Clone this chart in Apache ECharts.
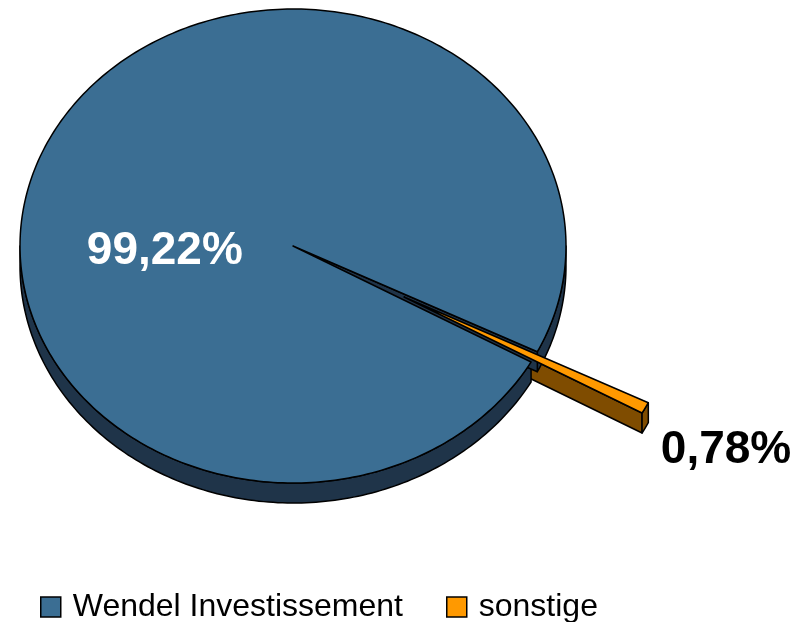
<!DOCTYPE html>
<html>
<head>
<meta charset="utf-8">
<script src="https://cdn.jsdelivr.net/npm/echarts@6/dist/echarts.min.js"></script>
<style>html,body{margin:0;padding:0;background:#fff}#chart{width:812px;height:622px}</style>
</head>
<body>
<div id="chart"></div>
<script>
// Anteile in Prozent
var names = ['Wendel Investissement', 'sonstige'];
var values = [99.22, 0.78];
var labels = ['99,22%', '0,78%'];

var topColors = ['#3b6e93', '#ff9900'];
var sideColors = ['#1f3449', '#7f4c00'];
var labelColors = ['#fff', '#000'];
var explode = [0, 0.46];
var labelR = [0.47, 1.805];
var labelAngle = [177.5, 28.5];

// Ellipse der Deckfläche
var cx = 293, cy = 246, rx = 273, ry = 237, depth = 20;
var startAngle = 29.3; // Grad, im Uhrzeigersinn ab 3 Uhr

var total = values.reduce(function (a, b) { return a + b; }, 0);
var ranges = [];
var acc = startAngle;
values.forEach(function (v) {
  var span = v / total * 360;
  ranges.push([acc, acc + span]);
  acc += span;
});

function rad(d) { return d * Math.PI / 180; }

function pt(a, r, ox, oy, dz) {
  return [cx + ox + r * rx * Math.cos(rad(a)), cy + oy + r * ry * Math.sin(rad(a)) + dz];
}

function arc(a, b, ox, oy, dz) {
  var n = Math.max(3, Math.ceil(Math.abs(b - a)));
  var pts = [];
  for (var i = 0; i <= n; i++) pts.push(pt(a + (b - a) * i / n, 1, ox, oy, dz));
  return pts;
}

function poly(points, fill, z2) {
  return {
    type: 'polygon',
    z2: z2,
    shape: {points: points},
    style: {fill: fill, stroke: '#000', lineWidth: 1.5, lineJoin: 'round'}
  };
}

function renderSlice(params, api) {
  var i = params.seriesIndex;
  var a = ranges[i][0], b = ranges[i][1];
  var mid = (a + b) / 2;
  var ox = explode[i] * rx * Math.cos(rad(mid));
  var oy = explode[i] * ry * Math.sin(rad(mid));
  var c0 = [cx + ox, cy + oy];
  var c1 = [cx + ox, cy + oy + depth];
  // herausgezogene Stücke: Schnittflächen liegen hinter dem Rest
  var wallZ = explode[i] > 0 ? 0 : 2;
  var children = [];

  // Außenwand, nur vorne sichtbar
  var cuts = [a];
  for (var k = Math.ceil(a / 180) * 180; k < b; k += 180) if (k > a) cuts.push(k);
  cuts.push(b);
  for (var j = 0; j < cuts.length - 1; j++) {
    var s = cuts[j], e = cuts[j + 1];
    if (Math.sin(rad((s + e) / 2)) > 0) {
      children.push(poly(arc(s, e, ox, oy, 0).concat(arc(s, e, ox, oy, depth).reverse()), sideColors[i], 1));
    }
  }
  // Schnittflächen
  if (Math.cos(rad(b)) > 0) {
    children.push(poly([c0, pt(b, 1, ox, oy, 0), pt(b, 1, ox, oy, depth), c1], sideColors[i], wallZ));
  }
  if (Math.cos(rad(a)) < 0) {
    children.push(poly([c0, pt(a, 1, ox, oy, 0), pt(a, 1, ox, oy, depth), c1], sideColors[i], wallZ));
  }
  // Deckfläche
  children.push(poly([c0].concat(arc(a, b, ox, oy, 0)), topColors[i], 3));

  var lp = pt(labelAngle[i], labelR[i], 0, 0, 0);
  children.push({
    type: 'text',
    z2: 10,
    x: lp[0], y: lp[1],
    style: {
      text: labels[i],
      fill: labelColors[i],
      fontSize: 46,
      fontWeight: 'bold',
      fontFamily: '"Liberation Sans", Arial, sans-serif',
      align: 'center',
      verticalAlign: 'middle'
    }
  });
  return {type: 'group', children: children};
}

var legendBase = {
  icon: 'rect',
  itemWidth: 20,
  itemHeight: 20,
  padding: 0,
  top: 591,
  itemStyle: {borderColor: '#000', borderWidth: 1.5},
  textStyle: {fontSize: 32, fontFamily: '"Liberation Sans", Arial, sans-serif', color: '#000', padding: [0, 0, 0, 7]}
};

var chart = echarts.init(document.getElementById('chart'));
chart.setOption({
  animation: false,
  legend: [
    Object.assign({}, legendBase, {data: [names[0]], left: 40}),
    Object.assign({}, legendBase, {data: [names[1]], left: 446})
  ],
  series: names.map(function (n, i) {
    return {
      type: 'custom',
      name: n,
      z: 2,
      coordinateSystem: 'none',
      itemStyle: {color: topColors[i]},
      data: [[values[i]]],
      renderItem: renderSlice
    };
  })
});
</script>
</body>
</html>
